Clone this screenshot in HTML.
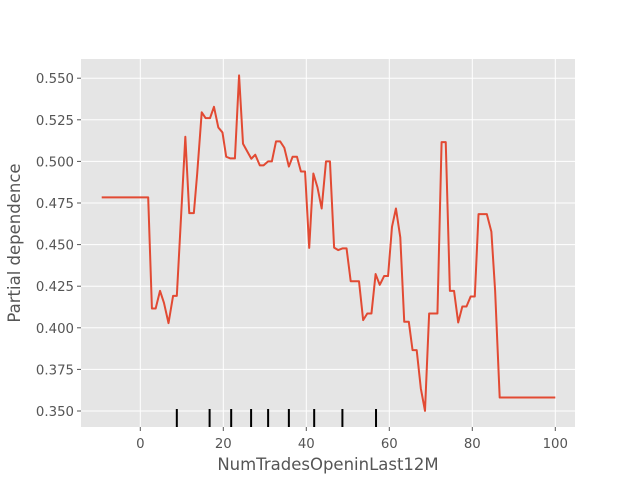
<!DOCTYPE html>
<html><head><meta charset="utf-8"><style>
body{margin:0;background:#fff;}
svg{display:block;font-family:"DejaVu Sans","Liberation Sans",sans-serif;}
</style></head><body>
<svg id="chart" width="640" height="480">
<rect x="81" y="59" width="494" height="368" fill="#e5e5e5"/>
<g id="grid"></g><g id="rug"></g><g id="line"></g><g id="xt"></g><g id="yt"></g>
<text x="328" y="470" text-anchor="middle" font-size="16.5" fill="#555">NumTradesOpeninLast12M</text>
<text transform="translate(20,243) rotate(-90)" text-anchor="middle" font-size="16.5" fill="#555">Partial dependence</text>
</svg>
<script>
const xs=[-9.3,1.9,2.8,3.7,4.75,5.7,6.8,7.9,8.8,10.85,11.8,12.9,13.7,14.8,15.75,16.8,17.75,18.8,19.8,20.7,21.7,22.8,23.8,24.75,26.75,27.7,28.8,29.7,30.8,31.7,32.7,33.7,34.7,35.8,36.7,37.75,38.7,39.7,40.7,41.7,42.7,43.7,44.75,45.7,46.7,47.7,48.7,49.7,50.7,52.7,53.7,54.7,55.7,56.7,57.7,58.75,59.7,60.65,61.6,62.65,63.6,64.7,65.6,66.6,67.6,68.6,69.6,71.6,72.6,73.6,74.6,75.6,76.6,77.6,78.6,79.6,80.6,81.5,83.5,84.6,85.5,86.6,100];
const ys=[0.4784,0.4784,0.4116,0.4116,0.4222,0.415,0.4028,0.4192,0.4192,0.5148,0.4689,0.4689,0.4924,0.5295,0.526,0.526,0.5328,0.5204,0.5174,0.5028,0.5018,0.5018,0.5517,0.5106,0.5016,0.504,0.4976,0.4976,0.5,0.5,0.512,0.512,0.5082,0.4969,0.5028,0.5028,0.4939,0.4939,0.448,0.4927,0.4843,0.4717,0.5,0.5,0.4482,0.4467,0.4477,0.4477,0.428,0.428,0.4046,0.4086,0.4086,0.4323,0.4258,0.4311,0.4311,0.4607,0.4717,0.4543,0.4036,0.4036,0.3866,0.3866,0.3635,0.3501,0.4086,0.4086,0.5116,0.5116,0.4222,0.4222,0.4032,0.4128,0.4128,0.4188,0.4188,0.4683,0.4683,0.4577,0.4222,0.3581,0.3581];
const rug=[8.8,16.7,21.9,26.7,30.8,35.8,41.9,48.7,56.8];
const xTicks=[0,20,40,60,80,100];
const yTicks=[0.35,0.375,0.4,0.425,0.45,0.475,0.5,0.525,0.55];
const X=v=>140.3+v*4.15, Y=v=>411-(v-0.35)*1664;
const NS='http://www.w3.org/2000/svg';
function mk(p,t,a){const e=document.createElementNS(NS,t);for(const k in a)e.setAttribute(k,a[k]);document.getElementById(p).appendChild(e);return e;}
xTicks.forEach(v=>{
const g=mk('grid','line',{x1:X(v),x2:X(v),y1:59,y2:427,stroke:'#fff','stroke-width':1});


mk('xt','line',{x1:X(v),x2:X(v),y1:427,y2:431,stroke:'#555'});
const t=mk('xt','text',{x:X(v),y:448,'text-anchor':'middle','font-size':13.3,fill:'#555'});t.textContent=v;


});
yTicks.forEach(v=>{
const g=mk('grid','line',{x1:81,x2:575,y1:Y(v),y2:Y(v),stroke:'#fff','stroke-width':1});


mk('yt','line',{x1:77,x2:81,y1:Y(v),y2:Y(v),stroke:'#555'});
const t=mk('yt','text',{x:74,y:Y(v)+5,'text-anchor':'end','font-size':13.3,fill:'#555'});t.textContent=v.toFixed(3);


});
rug.forEach(v=>{
const r=mk('rug','line',{x1:X(v),x2:X(v),y1:409,y2:427,stroke:'#000','stroke-width':2});


});
const pl=mk('line','polyline',{points:xs.map((x,i)=>X(x)+','+Y(ys[i])).join(' '),fill:'none',stroke:'#e24a33','stroke-width':2,'stroke-linejoin':'round'});


</script>
</body></html>
